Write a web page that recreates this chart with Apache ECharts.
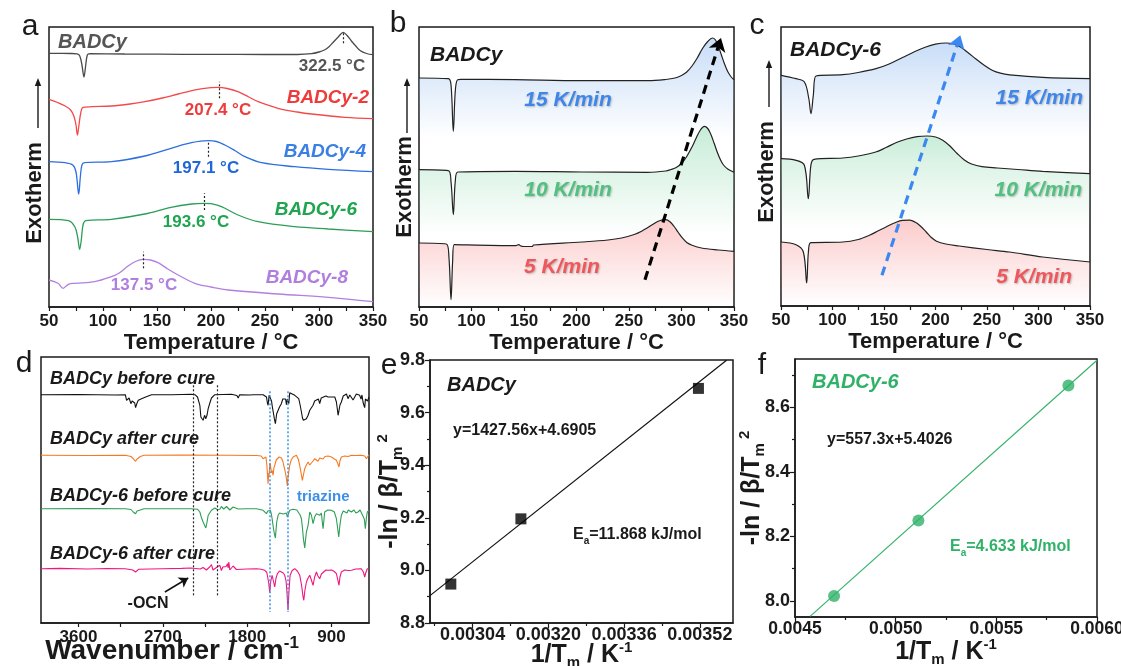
<!DOCTYPE html>
<html><head><meta charset="utf-8">
<script src="https://cdn.jsdelivr.net/npm/echarts@6/dist/echarts.min.js"></script>
<style>html,body{margin:0;padding:0;background:#fff}#c{width:1121px;height:666px}</style>
</head><body><div id="c"></div>
<script>
const FONT = '"Liberation Sans", Arial, sans-serif';
const BLACK = '#1a1a1a';

// ---------- Panel a: DSC curves (T in °C, relative heat flow a.u.) ----------
const aBADCy = [[50,253.7],[70,253.5],[76,253.2],[78.5,251],[80.5,242],[82.4,230],[83.8,240],[85.5,252],[88,253.3],[120,253],[150,252.8],[200,252.6],[250,252.5],[280,252.5],[293,253.3],[300,255],[305,257],[309,260],[313,264.5],[318,270.3],[322.5,274.7],[326,271.5],[330,266],[334,261],[338,256.5],[344,253.5],[350,252.3]];
const aBADCy2 = [[50,207.7],[58,204.5],[65,201],[70,197],[73,191],[75,182],[76.3,172],[77.5,180],[79.4,194],[81.5,199.7],[90,200.3],[107.8,201],[125,203],[138.7,205.3],[155,209],[169.6,213],[188,217.7],[200,219.3],[206.6,219.7],[215,218.5],[225,215.3],[235,210],[243.7,205.3],[262,198.7],[280,195],[293,193],[324,189.7],[350,188.3]];
const aBADCy4 = [[50,145.3],[65,144.3],[72,142],[75,135],[77.5,113],[79,130],[80.5,142],[83,144.3],[107.8,145.3],[138.7,151],[163,158.7],[182,164.3],[197.4,166.3],[205,165.5],[212.8,162],[222,156.5],[231.4,150.3],[246.8,144.3],[277.7,140.3],[308.6,137.7],[350,135.3]];
const aBADCy6 = [[50,87.7],[68,86.3],[74,80],[76.5,70],[78.4,57.7],[80,68],[81.5,82],[84,86.3],[107.8,87.7],[138.7,93],[163,99.7],[182,103],[193.7,103.7],[200,103.3],[209.7,100.3],[225,92],[243.7,85.3],[277.7,80.3],[308.6,78],[350,75.3]];
const aBADCy8 = [[50,27],[58.3,23.7],[63,18.7],[67.9,22.7],[74,23.7],[92.3,25.3],[107.8,30.3],[115,34],[123.2,41],[130,45.5],[137.1,47.7],[144,47],[151,44.3],[160,38],[169.6,32],[185,23.7],[200,20],[216,17],[262.2,13],[308.6,9.7],[350,5.3]];
const aPeakT = [322.5, 207.4, 197.1, 193.6, 137.5];
const aPeakMarkY = [[263.7,275.3],[208.7,225.3],[150.3,166.3],[97,113.7],[38.7,55.3]];

// ---------- Panel b: BADCy at three heating rates ----------
const b15 = [[50,229],[78,228.3],[80.5,222],[82.7,175.7],[84.5,215],[86.5,227],[90,227.7],[141.4,227.3],[205,226.3],[268,226.3],[285,227.5],[293.8,229],[300,231.5],[305,235],[310,241],[315,249],[320,258.5],[325,265.5],[329.4,269],[332,267.5],[335,261],[338,252],[341,243],[344,235.5],[347,230.5],[350,227.3]];
const b10 = [[50,137.3],[78,136.3],[80.5,125],[82.7,92.3],[84.5,125],[87,135],[141.4,135.7],[205,135],[268,134.7],[285,136],[290,137.5],[295,139.5],[300,143.5],[305,150.5],[310,160],[314,169],[318,177],[321.7,180.7],[325,178.5],[328,172.5],[331,164],[334,155],[337,147.5],[340,142],[344,138],[350,134.7]];
const b5 = [[50,64],[76,63],[78.5,50],[80.5,7.3],[82,45],[83.5,62.3],[141.4,61.3],[145,62.3],[147,61],[150,60.5],[158,60.5],[159,62],[205,65],[230,67],[243,69],[255,72.5],[262,75.7],[268,79.5],[274,83.5],[279,86.3],[284.9,87.3],[289,85.3],[293,80.5],[297,74.5],[301,68.8],[305,64.5],[310,61.8],[319,59],[335,57],[350,55.7]];
const bArrow = [[265.2,27.3],[337.6,269]];

// ---------- Panel c: BADCy-6 at three heating rates ----------
const c15 = [[50,229.7],[64.6,226.3],[72.7,223],[76.9,207],[79.1,191.3],[81.4,210],[84,229],[109.9,230.3],[125,232.5],[142.2,236.3],[155,241],[168,247.5],[180,253.5],[190,257.8],[200,260.8],[210,262],[218,261],[225,257.5],[232,252],[239,246.3],[247,240],[255,234.8],[263,231.8],[272,230.2],[304,227.7],[350,226.3]];
const c10 = [[50,146.3],[64.6,144.7],[72.7,139.7],[76.5,106.3],[79,139.7],[82,145.7],[109.9,147],[125,149],[142,153],[152,157.5],[162,162.5],[172,166],[182,168.3],[192,169],[200,168],[207,164.7],[214,159],[221,151.5],[228,145],[235,141],[245,138.3],[260,137],[280,135.5],[304,133.7],[350,131.3]];
const c5 = [[50,63],[64.6,60.3],[71.7,53],[74.9,22],[76.6,53],[79,62.3],[109.9,63],[125,65.5],[135.8,69.7],[145,74.5],[152,78],[160,82],[168,84.7],[175,84.8],[180,83],[185,79.3],[191,73],[196,67.5],[201,63.8],[210,61],[223,59],[250,55.5],[272,53],[304,48],[350,43]];
const cArrow = [[148,29.7],[224.1,269.7]];

// ---------- Panel d: FTIR (wavenumber cm-1, offset transmittance) ----------
const dBADCyBefore = [[4000,228.3],[3600,228.5],[3200,228],[3100,228.3],[3087,222.7],[3075,224],[3069,221],[3060,225],[3050,224],[3041,219.3],[3028,222],[3016,222.7],[3000,220],[2991,215.3],[2975,220],[2962,222.7],[2945,224.3],[2909,225],[2856,227],[2820,228.3],[2600,228.3],[2400,228.7],[2358,228.3],[2330,226],[2305,217.7],[2294,206],[2282,204],[2270,202.7],[2255,207.7],[2241,204.3],[2228,208],[2216,214.3],[2195,221],[2181,225],[2145,228.3],[1968,228.7],[1910,227.5],[1896,225],[1880,228.3],[1770,228],[1754,226],[1740,228.3],[1630,228.3],[1594,226],[1584,220],[1577,217.7],[1570,224],[1566,227.7],[1552,228],[1540,222],[1534,217.7],[1520,210],[1510,204.3],[1499,199.3],[1485,209.3],[1470,211],[1455,216],[1435,219.3],[1420,224],[1410,224.3],[1399,222.7],[1390,224],[1381,218.3],[1372,224],[1364,223.7],[1356,219.3],[1346,230.3],[1328,228.3],[1292,227.7],[1250,224.3],[1235,218],[1221,211],[1210,205],[1200,202.7],[1186,201],[1168,204.3],[1150,207.7],[1132,212.7],[1115,211],[1097,217.7],[1080,222],[1061,222.7],[1040,224],[1026,219.3],[1010,225],[990,224.3],[960,227],[937,226],[900,226],[884,225],[865,226],[848,221],[838,214],[830,207.7],[820,212.7],[810,218],[795,221],[775,227],[759,226],[740,229],[724,224.3],[705,228],[688,227.7],[670,223],[653,225],[635,229],[617,227],[600,227.7],[585,224],[575,228],[564,221],[555,218],[546,215.3],[538,224],[528,226],[515,222],[500,226]];
const dBADCyAfter = [[4000,167.7],[3500,167.5],[3100,167.7],[3040,166.5],[3016,164.3],[3000,165],[2991,161.7],[2975,164],[2962,165],[2940,166.5],[2900,167.7],[2500,168],[2000,167.7],[1700,167.5],[1650,167],[1630,164.3],[1612,166],[1600,166],[1590,158],[1577,139.3],[1570,150],[1566,147.7],[1558,160],[1552,157.7],[1540,150],[1534,152.7],[1523,147.7],[1515,155],[1506,157.7],[1490,163],[1477,161.7],[1460,166],[1450,167.7],[1435,165],[1420,162],[1410,157.7],[1395,152],[1381,144.3],[1371,137],[1364,146],[1356,147.7],[1346,157.7],[1330,163],[1310,166],[1275,167.7],[1255,164],[1239,157.7],[1225,150],[1211,142.7],[1200,148],[1186,154.3],[1168,158],[1150,161],[1132,158],[1115,157.7],[1097,162],[1079,164.3],[1060,163],[1044,161.7],[1026,165],[1008,166],[990,164],[970,166.5],[937,167],[900,166],[870,164],[848,162.7],[835,160],[820,156],[810,162],[795,166],[760,167],[720,166.5],[688,167.7],[640,167.5],[582,167.7],[545,167],[528,164.3],[515,166],[500,168.3]];
const dBADCy6Before = [[4000,114.3],[3500,114.5],[3100,114.3],[3040,113.5],[3016,111],[3000,112],[2991,109.3],[2975,112],[2962,112.3],[2900,114.3],[2400,114.3],[2330,113.8],[2305,111],[2290,106],[2270,101],[2255,99],[2241,95],[2230,100],[2216,107.7],[2181,112.7],[2145,115],[2120,113.5],[2092,113.7],[2075,116.5],[2060,116],[2050,114],[2039,113.7],[2020,116.5],[2000,115.7],[1985,113],[1968,113.3],[1950,116],[1932,115],[1896,114],[1800,114.3],[1700,114.3],[1630,112.7],[1610,114],[1594,109.3],[1580,112],[1566,111],[1552,112.5],[1540,108],[1534,104.3],[1520,95],[1510,89.3],[1499,85],[1485,101],[1470,107.7],[1455,110],[1435,111],[1415,109],[1399,107.7],[1381,110],[1372,106],[1364,104.3],[1356,108],[1346,112.7],[1310,113.7],[1270,113],[1250,111.7],[1235,108],[1221,104.3],[1210,95],[1200,84.3],[1186,75],[1175,85],[1168,91],[1150,97.7],[1132,111],[1115,108],[1097,99.3],[1080,106],[1061,109.3],[1040,111],[1026,107.7],[1008,110],[995,98],[990,94.3],[980,104],[973,111],[940,113],[901,112.7],[870,111],[848,104.3],[835,95],[823,86],[810,98],[795,107.7],[775,112],[759,112.7],[735,110],[720,113],[688,111],[660,113],[640,110],[617,111],[595,113],[580,110],[564,109.3],[550,104],[539,94.3],[528,105],[518,111],[500,112.7]];
const dBADCy6After = [[4000,54.3],[3800,54.6],[3500,54],[3300,54.5],[3100,54.3],[3020,53],[2991,51],[2960,53.7],[2700,54.3],[2500,54.6],[2400,55],[2300,54],[2270,55.5],[2252,57],[2235,53],[2216,52.7],[2200,56],[2181,58.3],[2165,53],[2145,54.3],[2120,56],[2092,57.7],[2075,52.5],[2060,56],[2039,54.3],[2025,56.5],[2010,59.3],[2003,55],[1996,61],[1985,53],[1968,52.7],[1950,57],[1932,56],[1915,53.5],[1896,54.3],[1800,54],[1700,54.3],[1650,53.8],[1612,52.7],[1590,50.5],[1580,49.3],[1570,40],[1559,30.3],[1548,42],[1534,47.7],[1520,42],[1506,36],[1492,45],[1477,49.3],[1455,52],[1435,52.7],[1415,50],[1399,47.7],[1385,42],[1375,30],[1364,12.7],[1355,30],[1342,47.7],[1320,52.5],[1292,54.3],[1265,52],[1239,47.7],[1220,38],[1205,27],[1196,22.7],[1185,32],[1168,41],[1150,45],[1132,47.7],[1115,43],[1097,37.7],[1080,46],[1061,51],[1045,47],[1026,44.3],[1008,49],[990,51],[960,53],[937,52.7],[900,53],[870,51.5],[848,49.3],[835,44],[820,37.7],[810,46],[795,51],[760,53],[720,52.5],[688,52.7],[640,54],[582,54.3],[560,51],[546,46],[535,50],[518,54.3],[500,54.3]];
const dOcnLines = [2376, 2117];
const dTriazineLines = [1559, 1364];
const dOcnArrow = [[2678,31],[2429,45]];
const dTickLabels = [3600, 2700, 1800, 900];
const dTicks = [3600, 3150, 2700, 2250, 1800, 1350, 900];

// ---------- Panel e: Kissinger plot BADCy ----------
const eX = [0.002994, 0.003142, 0.003517];
const eY = [8.948, 9.196, 9.692];
const eFit = [[0.00295, 8.904], [0.003577, 9.8]];
const eTickLabels = [0.00304, 0.00320, 0.00336, 0.00352];
const eMinorTicks = [0.00296, 0.00312, 0.00328, 0.00344];

// ---------- Panel f: Kissinger plot BADCy-6 ----------
const fX = [0.004694, 0.005113, 0.005858];
const fY = [8.015, 8.249, 8.668];
const fFit = [[0.004575, 7.952], [0.006, 8.746]];
const fYTickLabels = [8.0, 8.2, 8.4, 8.6];
const fYMinorTicks = [8.1, 8.3, 8.5, 8.7];

const chart = echarts.init(document.getElementById('c'), null, {width:1121, height:666});

const boldTick = {fontFamily: FONT, fontWeight: 'bold', fontSize: 17, color: BLACK};
const lineAx = {show: true, onZero: false, lineStyle: {color: BLACK, width: 1.5}};
const tickSt = {color: BLACK, width: 1.2};
const nameSt = {fontFamily: FONT, fontWeight: 'bold', fontSize: 22, color: BLACK};

function tempX(gi) {
  return {type: 'value', gridIndex: gi, min: 50, max: 350, interval: 50,
    axisLine: lineAx, axisTick: {show: true, length: 4, lineStyle: tickSt},
    minorTick: {show: true, splitNumber: 2, length: 4, lineStyle: tickSt},
    splitLine: {show: false}, minorSplitLine: {show: false},
    axisLabel: Object.assign({margin: 6}, boldTick),
    name: 'Temperature / °C', nameLocation: 'middle', nameGap: 25, nameMoveOverlap: false, nameTextStyle: nameSt};
}
function hiddenY(gi, min, max) {
  return {type: 'value', gridIndex: gi, min: min, max: max, show: false, splitLine: {show: false}};
}
const gridBase = {show: true, borderColor: BLACK, borderWidth: 1.5, containLabel: false, outerBoundsMode: 'none'};
const grids = [
  Object.assign({left: 49, top: 27, width: 324, height: 280}, gridBase),
  Object.assign({left: 419, top: 27, width: 315, height: 280}, gridBase),
  Object.assign({left: 781, top: 27, width: 309, height: 279}, gridBase),
  Object.assign({left: 41, top: 357, width: 328, height: 266}, gridBase),
  Object.assign({left: 430, top: 360, width: 303, height: 263}, gridBase),
  Object.assign({left: 795, top: 359, width: 302, height: 258}, gridBase)
];

const richName = {
  a: {fontFamily: FONT, fontWeight: 'bold', fontSize: 25, color: BLACK, lineHeight: 30},
  sub: {fontFamily: FONT, fontWeight: 'bold', fontSize: 15, color: BLACK, verticalAlign: 'bottom', lineHeight: 14},
  sup: {fontFamily: FONT, fontWeight: 'bold', fontSize: 15, color: BLACK, verticalAlign: 'top', lineHeight: 14}
};

const xAxes = [
  tempX(0), tempX(1), tempX(2),
  {type: 'value', gridIndex: 3, inverse: true, min: 500, max: 4000,
    axisLine: lineAx, splitLine: {show: false},
    axisTick: {show: true, length: 4, lineStyle: tickSt, customValues: dTicks},
    axisLabel: Object.assign({margin: 6, customValues: dTickLabels, formatter: v => String(v)}, boldTick)},
  {type: 'value', gridIndex: 4, min: 0.00295, max: 0.00359, position: 'bottom',
    axisLine: lineAx, splitLine: {show: false},
    axisTick: {show: true, length: 5, lineStyle: tickSt, customValues: eTickLabels},
    axisLabel: Object.assign({margin: 3, customValues: eTickLabels, formatter: v => v.toFixed(5)}, boldTick, {fontSize: 18}),
    name: '{a|1/T}{sub|m}{a| / K}{sup|-1}', nameLocation: 'middle', nameGap: 17, nameMoveOverlap: false,
    nameTextStyle: {rich: richName}},
  {type: 'value', gridIndex: 5, min: 0.0045, max: 0.006, interval: 0.0005, position: 'bottom',
    axisLine: lineAx, splitLine: {show: false},
    axisTick: {show: true, length: 5, lineStyle: tickSt},
    minorTick: {show: true, splitNumber: 2, length: 3, lineStyle: tickSt},
    axisLabel: Object.assign({margin: 3, formatter: v => v.toFixed(4)}, boldTick, {fontSize: 17.5}),
    name: '{a|1/T}{sub|m}{a| / K}{sup|-1}', nameLocation: 'middle', nameGap: 20, nameMoveOverlap: false,
    nameTextStyle: {rich: richName}},
  // minor tick overlay for e
  {type: 'value', gridIndex: 4, min: 0.00295, max: 0.00359, position: 'bottom', offset: 0, axisLine: {show: false},
    splitLine: {show: false}, axisLabel: {show: false},
    axisTick: {show: true, length: 3, lineStyle: tickSt, customValues: eMinorTicks}}
];

const yAxes = [
  hiddenY(0, 0, 280), hiddenY(1, 0, 280), hiddenY(2, -1, 278), hiddenY(3, 0, 266),
  {type: 'value', gridIndex: 4, min: 8.8, max: 9.8, interval: 0.2, position: 'left',
    axisLine: lineAx, splitLine: {show: false}, minorSplitLine: {show: false},
    axisTick: {show: true, length: 5, lineStyle: tickSt},
    minorTick: {show: true, splitNumber: 2, length: 3, lineStyle: tickSt},
    axisLabel: Object.assign({margin: 5, formatter: v => v.toFixed(1)}, boldTick, {fontSize: 18}),
    name: '{a|-ln / β/T}{sub|m}{sup| 2}', nameLocation: 'middle', nameRotate: 90, nameGap: 25, nameMoveOverlap: false,
    nameTextStyle: {rich: richName}},
  {type: 'value', gridIndex: 5, min: 7.95, max: 8.75, position: 'left',
    axisLine: lineAx, splitLine: {show: false},
    axisTick: {show: true, length: 5, lineStyle: tickSt, customValues: fYTickLabels},
    axisLabel: Object.assign({margin: 5, customValues: fYTickLabels, formatter: v => v.toFixed(1)}, boldTick, {fontSize: 18}),
    name: '{a|-ln / β/T}{sub|m}{sup| 2}', nameLocation: 'middle', nameRotate: 90, nameGap: 28, nameMoveOverlap: false,
    nameTextStyle: {rich: richName}},
  {type: 'value', gridIndex: 5, min: 7.95, max: 8.75, position: 'left', offset: 0, axisLine: {show: false},
    splitLine: {show: false}, axisLabel: {show: false},
    axisTick: {show: true, length: 3, lineStyle: tickSt, customValues: fYMinorTicks}}
];

function curve(xi, yi, data, color, width, smooth, extra) {
  return Object.assign({type: 'line', xAxisIndex: xi, yAxisIndex: yi, data: data, showSymbol: false,
    smooth: smooth ? 0.35 : false,
    lineStyle: {color: color, width: width}, itemStyle: {color: color}, silent: true, z: 3}, extra || {});
}
function grad(rgb, a0, sBase, aBase, sEnd) {
  return {type: 'linear', x: 0, y: 0, x2: 0, y2: 1, colorStops: [
    {offset: 0, color: `rgba(${rgb},${a0})`},
    {offset: sBase, color: `rgba(${rgb},${aBase})`},
    {offset: sEnd, color: `rgba(${rgb},0)`},
    {offset: 1, color: `rgba(${rgb},0)`}]};
}
const BLUEF = '150,190,240', GREENF = '150,220,180', REDF = '248,150,150';

const peakMarks = aPeakT.map((t, i) => [{coord: [t, aPeakMarkY[i][0]]}, {coord: [t, aPeakMarkY[i][1]]}]);

const series = [
  curve(0, 0, aBADCy, '#4a4a4a', 1.3, true, {markLine: {silent: true, symbol: 'none', label: {show: false},
    lineStyle: {type: [2, 2], color: '#222', width: 1.2}, data: peakMarks}}),
  curve(0, 0, aBADCy2, '#f24a4a', 1.3, true),
  curve(0, 0, aBADCy4, '#2d6fe0', 1.3, true),
  curve(0, 0, aBADCy6, '#2c9e58', 1.3, true),
  curve(0, 0, aBADCy8, '#b27fe0', 1.3, true),

  curve(1, 1, b15, '#222', 1.2, true, {areaStyle: {color: grad(BLUEF, 0.75, 0.15, 0.45, 0.37)}}),
  curve(1, 1, b10, '#222', 1.2, true, {areaStyle: {color: grad(GREENF, 0.75, 0.25, 0.45, 0.6)}}),
  curve(1, 1, b5, '#222', 1.2, true, {areaStyle: {color: grad(REDF, 0.7, 0.28, 0.5, 1.0)},
    markLine: {silent: true, symbol: ['none', 'arrow'], symbolSize: 13, label: {show: false},
      lineStyle: {type: [9, 6], color: '#000', width: 3.2},
      data: [[{coord: bArrow[0]}, {coord: bArrow[1]}]]}}),

  curve(2, 2, c15, '#222', 1.2, true, {areaStyle: {color: grad(BLUEF, 0.75, 0.13, 0.45, 0.36)}}),
  curve(2, 2, c10, '#222', 1.2, true, {areaStyle: {color: grad(GREENF, 0.75, 0.17, 0.45, 0.55)}}),
  curve(2, 2, c5, '#222', 1.2, true, {areaStyle: {color: grad(REDF, 0.7, 0.29, 0.5, 1.0)},
    markLine: {silent: true, symbol: ['none', 'arrow'], symbolSize: 13, label: {show: false},
      lineStyle: {type: [9, 6], color: '#3a88f0', width: 3.2},
      data: [[{coord: cArrow[0]}, {coord: cArrow[1]}]]}}),

  curve(3, 3, dBADCyBefore, '#111', 1.1, false, {markLine: {silent: true, symbol: 'none', label: {show: false},
    data: dOcnLines.map(w => [{coord: [w, 237.7], lineStyle: {type: [2, 2], color: '#222', width: 1.2}}, {coord: [w, 27.7]}])
      .concat(dTriazineLines.map(w => [{coord: [w, 231.7], lineStyle: {type: [2, 2], color: '#3d8fe8', width: 1.5}}, {coord: [w, 11]}]))}}),
  curve(3, 3, dBADCyAfter, '#f57a1f', 1.1, false),
  curve(3, 3, dBADCy6Before, '#2e9e56', 1.1, false),
  curve(3, 3, dBADCy6After, '#f0167f', 1.1, false, {markLine: {silent: true, symbol: ['none', 'arrow'], symbolSize: 9,
    label: {show: false}, lineStyle: {type: 'solid', color: '#111', width: 1.5},
    data: [[{coord: dOcnArrow[0]}, {coord: dOcnArrow[1]}]]}}),

  curve(4, 4, eFit, '#111', 1.2, false),
  {type: 'scatter', xAxisIndex: 4, yAxisIndex: 4, data: eX.map((x, i) => [x, eY[i]]), symbol: 'rect', symbolSize: 11,
    itemStyle: {color: '#000'}, silent: true, z: 4},

  curve(5, 5, fFit, '#37b36c', 1.2, false),
  {type: 'scatter', xAxisIndex: 5, yAxisIndex: 5, data: fX.map((x, i) => [x, fY[i]]), symbol: 'circle', symbolSize: 12,
    itemStyle: {color: '#2fb268'}, silent: true, z: 4}
];

function T(text, x, y, o) {
  o = o || {};
  const st = {text: text, x: 0, y: 0,
    font: `${o.italic ? 'italic ' : ''}${o.weight || 'bold'} ${o.size || 18}px ${FONT}`,
    fill: o.color || BLACK, textAlign: o.align || 'left', textVerticalAlign: 'middle'};
  if (o.rich) st.rich = o.rich;
  if (o.shadow) { st.textShadowColor = 'rgba(0,0,0,0.25)'; st.textShadowBlur = 2; st.textShadowOffsetX = 1; st.textShadowOffsetY = 1; }
  return {type: 'text', x: x, y: y, rotation: o.rot || 0, style: st, silent: true, z: 100};
}
function vArrow(x, y1, y2) {
  return [
    {type: 'line', shape: {x1: x, y1: y1, x2: x, y2: y2 + 6}, style: {stroke: BLACK, lineWidth: 1.4}, silent: true},
    {type: 'polygon', shape: {points: [[x - 3.2, y2 + 8], [x, y2], [x + 3.2, y2 + 8]]}, style: {fill: BLACK}, silent: true}
  ];
}
const eaRich = (color, size) => ({
  a: {fontFamily: FONT, fontWeight: 'bold', fontSize: size, fill: color, color: color, lineHeight: size + 6},
  s: {fontFamily: FONT, fontWeight: 'bold', fontSize: Math.round(size * 0.65), fill: color, color: color, verticalAlign: 'bottom', lineHeight: 11}
});
const wnRich = {
  a: {fontFamily: FONT, fontWeight: 'bold', fontSize: 28, fill: BLACK, color: BLACK, lineHeight: 32},
  sup: {fontFamily: FONT, fontWeight: 'bold', fontSize: 17, fill: BLACK, color: BLACK, verticalAlign: 'top', lineHeight: 16}
};

const graphics = [
  T('a', 30, 27, {weight: 'normal', size: 30, align: 'center'}),
  T('b', 398, 24, {weight: 'normal', size: 30, align: 'center'}),
  T('c', 757, 26, {weight: 'normal', size: 30, align: 'center'}),
  T('d', 24, 364, {weight: 'normal', size: 30, align: 'center'}),
  T('e', 389, 366, {weight: 'normal', size: 30, align: 'center'}),
  T('f', 762, 366, {weight: 'normal', size: 30, align: 'center'}),

  T('Exotherm', 35, 193, {size: 22, align: 'center', rot: Math.PI / 2}),
  T('Exotherm', 405, 187, {size: 22, align: 'center', rot: Math.PI / 2}),
  T('Exotherm', 767, 172, {size: 22, align: 'center', rot: Math.PI / 2}),
  ...vArrow(38, 128, 78), ...vArrow(407, 133, 78), ...vArrow(769, 107, 60),

  T('BADCy', 58, 42, {italic: true, size: 20, color: '#555'}),
  T('322.5 °C', 332, 66, {size: 17, align: 'center', color: '#555'}),
  T('BADCy-2', 369, 98, {italic: true, size: 19, align: 'right', color: '#ee3b3b'}),
  T('207.4 °C', 218, 110, {size: 17, align: 'center', color: '#ee3b3b'}),
  T('BADCy-4', 366, 152, {italic: true, size: 19, align: 'right', color: '#3a7fe3'}),
  T('197.1 °C', 206, 168, {size: 17, align: 'center', color: '#1f66d8'}),
  T('BADCy-6', 357, 210, {italic: true, size: 19, align: 'right', color: '#1fa54f'}),
  T('193.6 °C', 196, 222, {size: 17, align: 'center', color: '#1fa54f'}),
  T('BADCy-8', 348, 278, {italic: true, size: 19, align: 'right', color: '#b07fdd'}),
  T('137.5 °C', 144, 285, {size: 17, align: 'center', color: '#b07fdd'}),

  T('BADCy', 430, 55, {italic: true, size: 21}),
  T('15 K/min', 568, 100, {italic: true, size: 21, align: 'center', color: '#3f86ea', shadow: true}),
  T('10 K/min', 568, 190, {italic: true, size: 21, align: 'center', color: '#52c07f', shadow: true}),
  T('5 K/min', 562, 267, {italic: true, size: 21, align: 'center', color: '#f0575c', shadow: true}),

  T('BADCy-6', 790, 50, {italic: true, size: 21}),
  T('15 K/min', 1083, 98, {italic: true, size: 21, align: 'right', color: '#3f86ea', shadow: true}),
  T('10 K/min', 1082, 190, {italic: true, size: 21, align: 'right', color: '#52c07f', shadow: true}),
  T('5 K/min', 1072, 277, {italic: true, size: 21, align: 'right', color: '#f0575c', shadow: true}),

  T('BADCy before cure', 50, 379, {italic: true, size: 18}),
  T('BADCy after cure', 50, 439, {italic: true, size: 18}),
  T('BADCy-6 before cure', 50, 496, {italic: true, size: 18}),
  T('BADCy-6 after cure', 50, 554, {italic: true, size: 18}),
  T('triazine', 297, 497, {size: 15, color: '#3d8fe8'}),
  T('-OCN', 148, 604, {size: 16, align: 'center'}),
  T('{a|Wavenumber / cm}{sup|-1}', 172, 651, {size: 28, align: 'center', rich: wnRich}),

  T('BADCy', 447, 385, {italic: true, size: 20}),
  T('y=1427.56x+4.6905', 453, 431, {size: 16}),
  T('{a|E}{s|a}{a|=11.868 kJ/mol}', 573, 535, {size: 16, rich: eaRich(BLACK, 16)}),

  T('BADCy-6', 812, 382, {italic: true, size: 20, color: '#2fb268'}),
  T('y=557.3x+5.4026', 827, 440, {size: 16}),
  T('{a|E}{s|a}{a|=4.633 kJ/mol}', 950, 547, {size: 16, color: '#2fb268', rich: eaRich('#2fb268', 16)})
];

chart.setOption({
  animation: false,
  backgroundColor: '#fff',
  grid: grids,
  xAxis: xAxes,
  yAxis: yAxes,
  series: series,
  graphic: {elements: graphics}
});
</script></body></html>
